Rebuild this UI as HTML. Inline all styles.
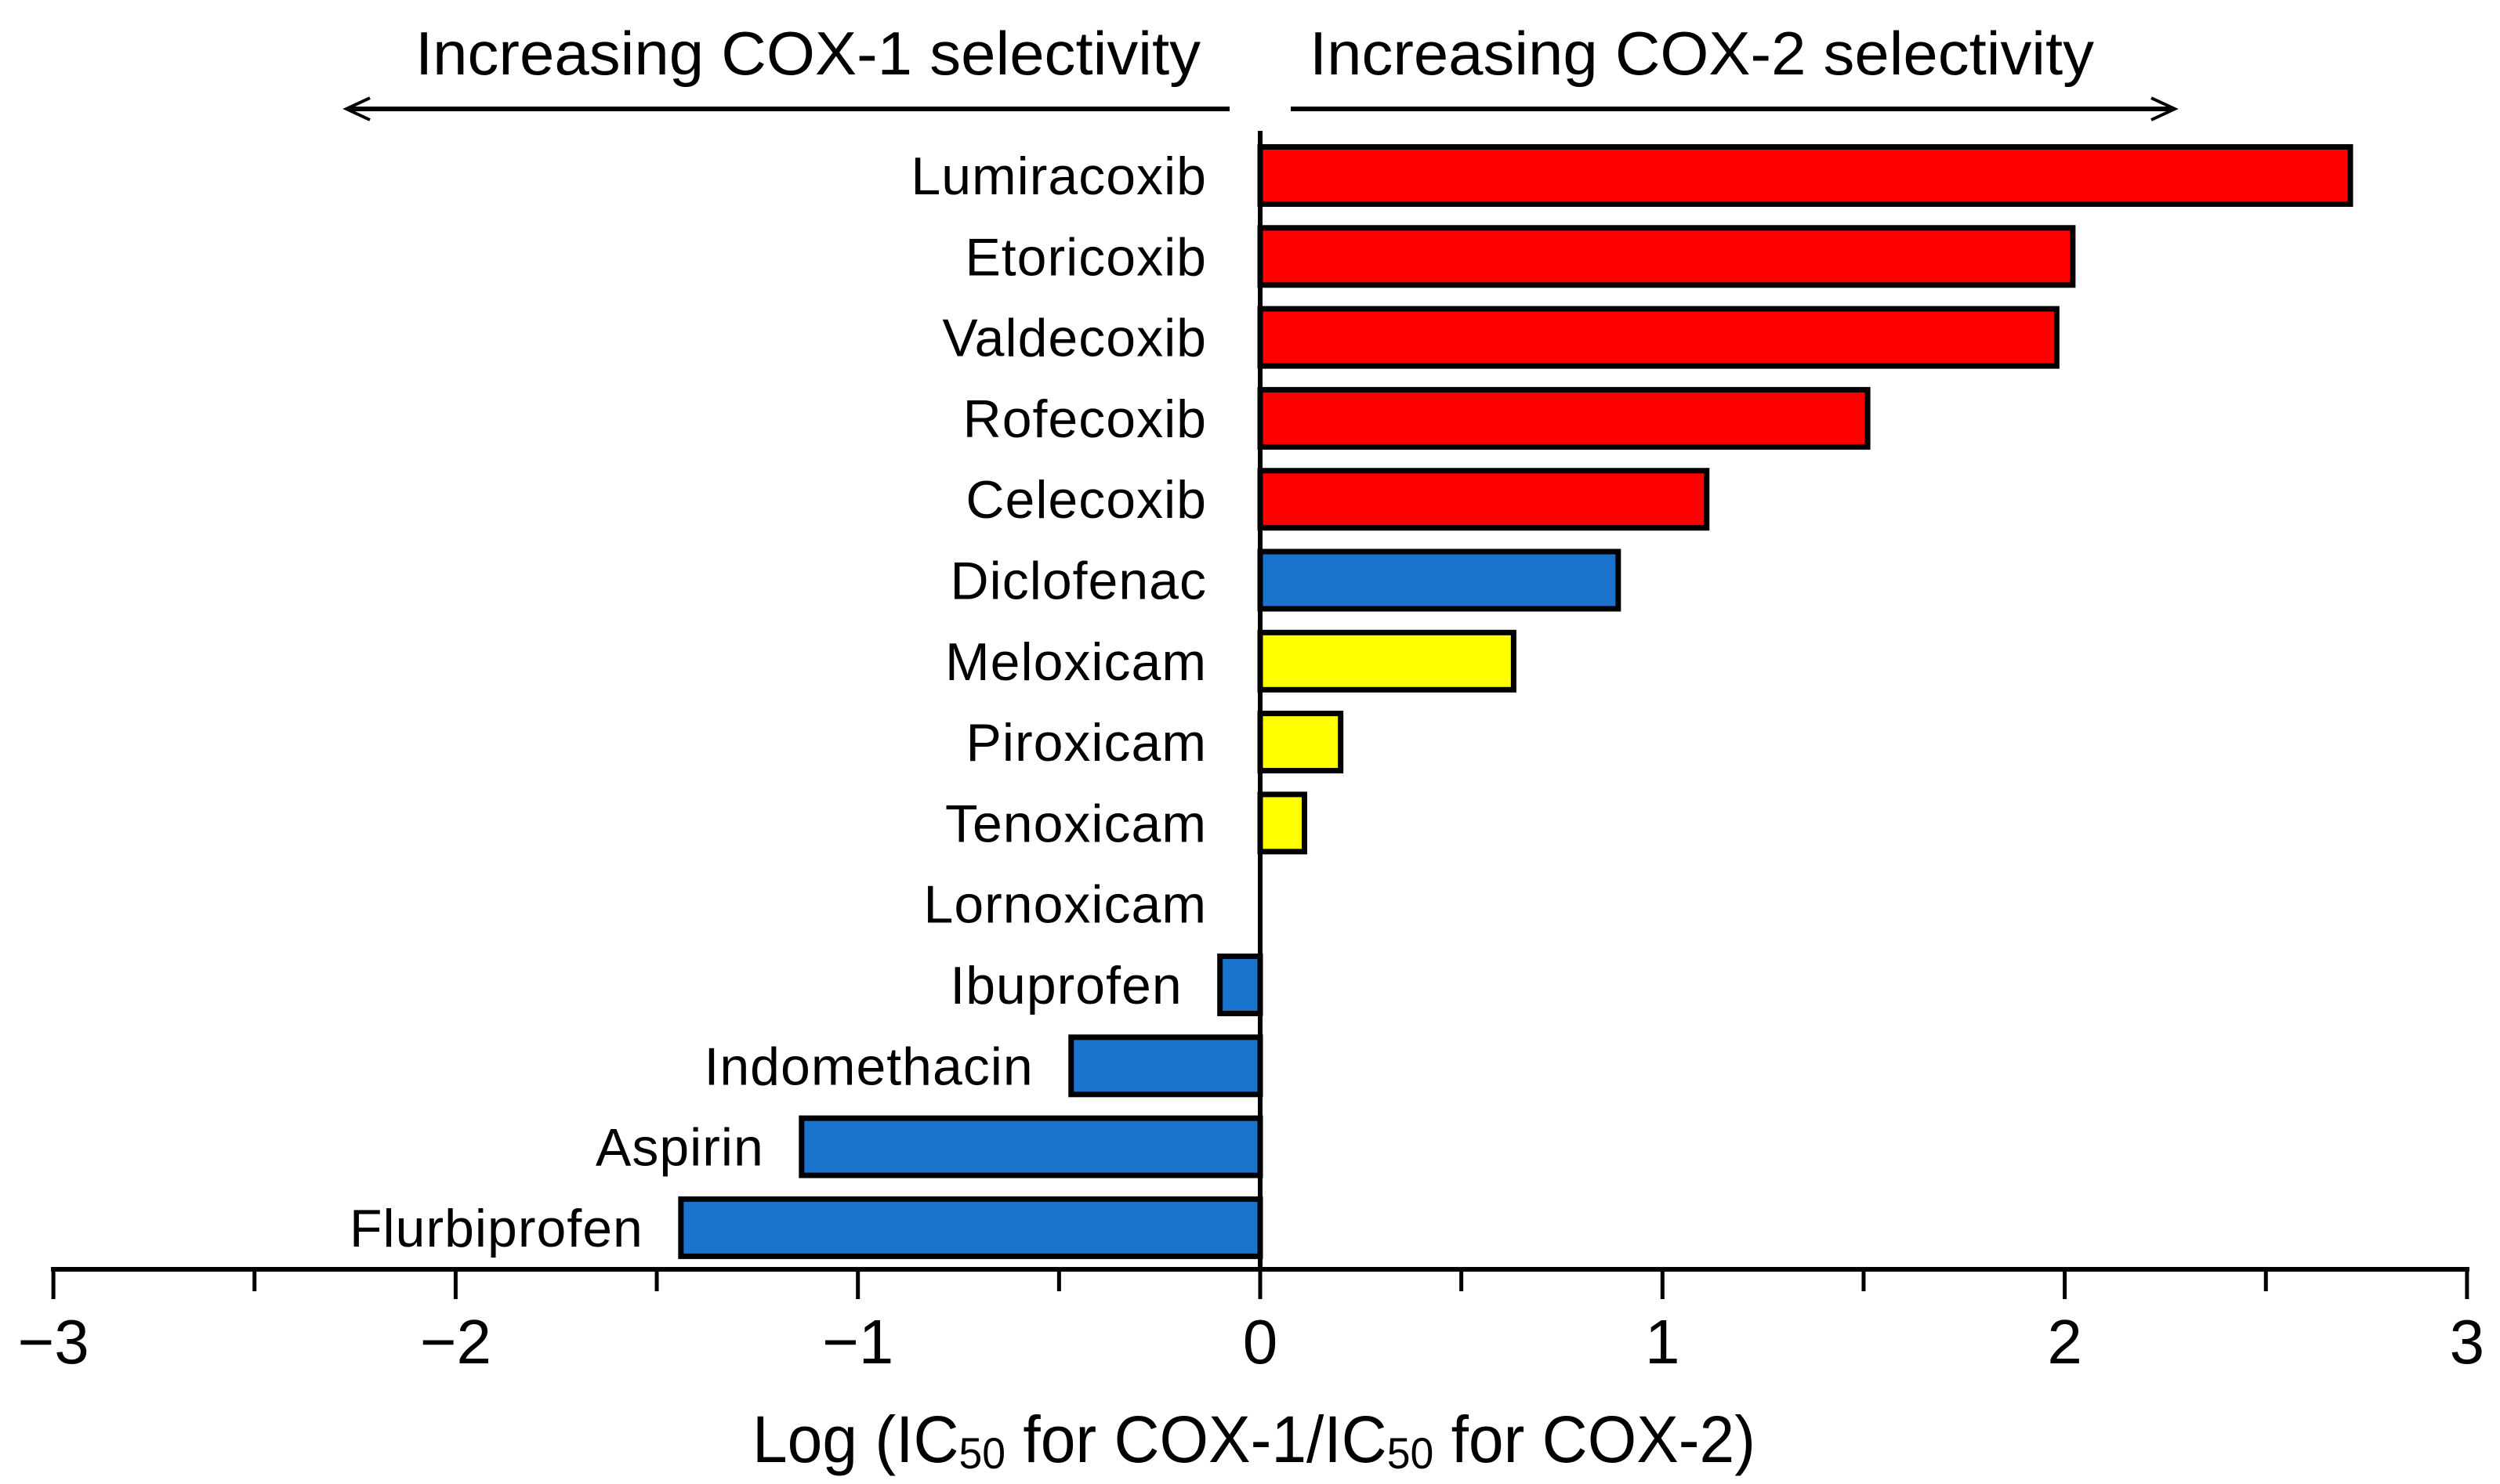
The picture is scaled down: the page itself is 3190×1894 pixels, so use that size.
<!DOCTYPE html>
<html><head><meta charset="utf-8"><style>
html,body{margin:0;padding:0;background:#fff;}
svg{display:block;font-family:"Liberation Sans",Arial,sans-serif;}
</style></head><body>
<svg id="chart" width="3190" height="1894" viewBox="0 0 3190 1894" xmlns="http://www.w3.org/2000/svg">
<g id="bars"></g>
<g id="labels"></g>
<g id="axis"></g>
<text x="1600" y="1866" font-size="84" text-anchor="middle" textLength="1280" lengthAdjust="spacingAndGlyphs">Log (IC<tspan font-size="56" dy="8">50</tspan><tspan dy="-8"> for COX-1/IC</tspan><tspan font-size="56" dy="8">50</tspan><tspan dy="-8"> for COX-2)</tspan></text>
<text x="530" y="95" font-size="78" textLength="1002" lengthAdjust="spacingAndGlyphs">Increasing COX-1 selectivity</text>
<text x="1671" y="95" font-size="78" textLength="1001" lengthAdjust="spacingAndGlyphs">Increasing COX-2 selectivity</text>
<g stroke="#000" stroke-width="6" fill="none">
<line x1="1569" y1="139" x2="445" y2="139"/><polyline points="472,125 442,139 472,153" stroke-width="4"/>
</g>
<g stroke="#000" stroke-width="6" fill="none">
<line x1="1647" y1="139" x2="2770" y2="139"/><polyline points="2745,125 2775,139 2745,153" stroke-width="4"/>
</g>
</svg>
<script>
const drugs=["Lumiracoxib","Etoricoxib","Valdecoxib","Rofecoxib","Celecoxib","Diclofenac","Meloxicam","Piroxicam","Tenoxicam","Lornoxicam","Ibuprofen","Indomethacin","Aspirin","Flurbiprofen"];
const values=[2.71,2.02,1.98,1.51,1.11,0.89,0.63,0.20,0.11,0,-0.10,-0.47,-1.14,-1.44];
const groups=["red","red","red","red","red","blue","yellow","yellow","yellow","yellow","blue","blue","blue","blue"];
const tickValues=[-3,-2,-1,0,1,2,3];
const tickLabels=["\u22123","\u22122","\u22121","0","1","2","3"];
const minorTicks=[-2.5,-1.5,-0.5,0.5,1.5,2.5];
const colorMap={red:"#ff0000",blue:"#1a74cd",yellow:"#ffff00"};
const NS="http://www.w3.org/2000/svg";
const X0=1608,UNIT=513.3,ROW0=224,ROWH=103.3,BARH=73,AXY=1620;
const xs=v=>X0+v*UNIT, ys=i=>ROW0+i*ROWH;
function mk(t,a){const e=document.createElementNS(NS,t);for(const k in a)e.setAttribute(k,a[k]);return e;}
const gb=document.getElementById('bars'),gl=document.getElementById('labels'),ga=document.getElementById('axis');
drugs.forEach((d,i)=>{
  const v=values[i];const y=ys(i);
  if(v!==0){
    const x1=Math.min(xs(0),xs(v)),w=Math.abs(xs(v)-xs(0));
    const r=mk('rect',{x:x1,y:y-BARH/2,width:w,height:BARH,fill:colorMap[groups[i]],stroke:"#000","stroke-width":7});
    
    
    gb.appendChild(r);
  }
  const lx=v<0?xs(v)-48:xs(0)-68;
  const t=mk('text',{x:lx,y:y+24,"font-size":68,"text-anchor":"end","letter-spacing":1});
  t.textContent=d;
  
  
  gl.appendChild(t);
});
const zl=mk('line',{x1:xs(0),y1:167,x2:xs(0),y2:AXY,stroke:"#000","stroke-width":6});


ga.appendChild(zl);
const al=mk('line',{x1:xs(-3)-3,y1:AXY,x2:xs(3)+3,y2:AXY,stroke:"#000","stroke-width":6});


ga.appendChild(al);
tickValues.forEach((v,i)=>{
  const l=mk('line',{x1:xs(v),y1:AXY,x2:xs(v),y2:AXY+38,stroke:"#000","stroke-width":5});
  
  
  ga.appendChild(l);
  const t=mk('text',{x:xs(v),y:AXY+120,"font-size":80,"text-anchor":"middle"});
  t.textContent=tickLabels[i];
  
  
  ga.appendChild(t);
});
minorTicks.forEach(v=>{
  const l=mk('line',{x1:xs(v),y1:AXY,x2:xs(v),y2:AXY+28,stroke:"#000","stroke-width":5});
  
  
  ga.appendChild(l);
});
</script>
</body></html>
